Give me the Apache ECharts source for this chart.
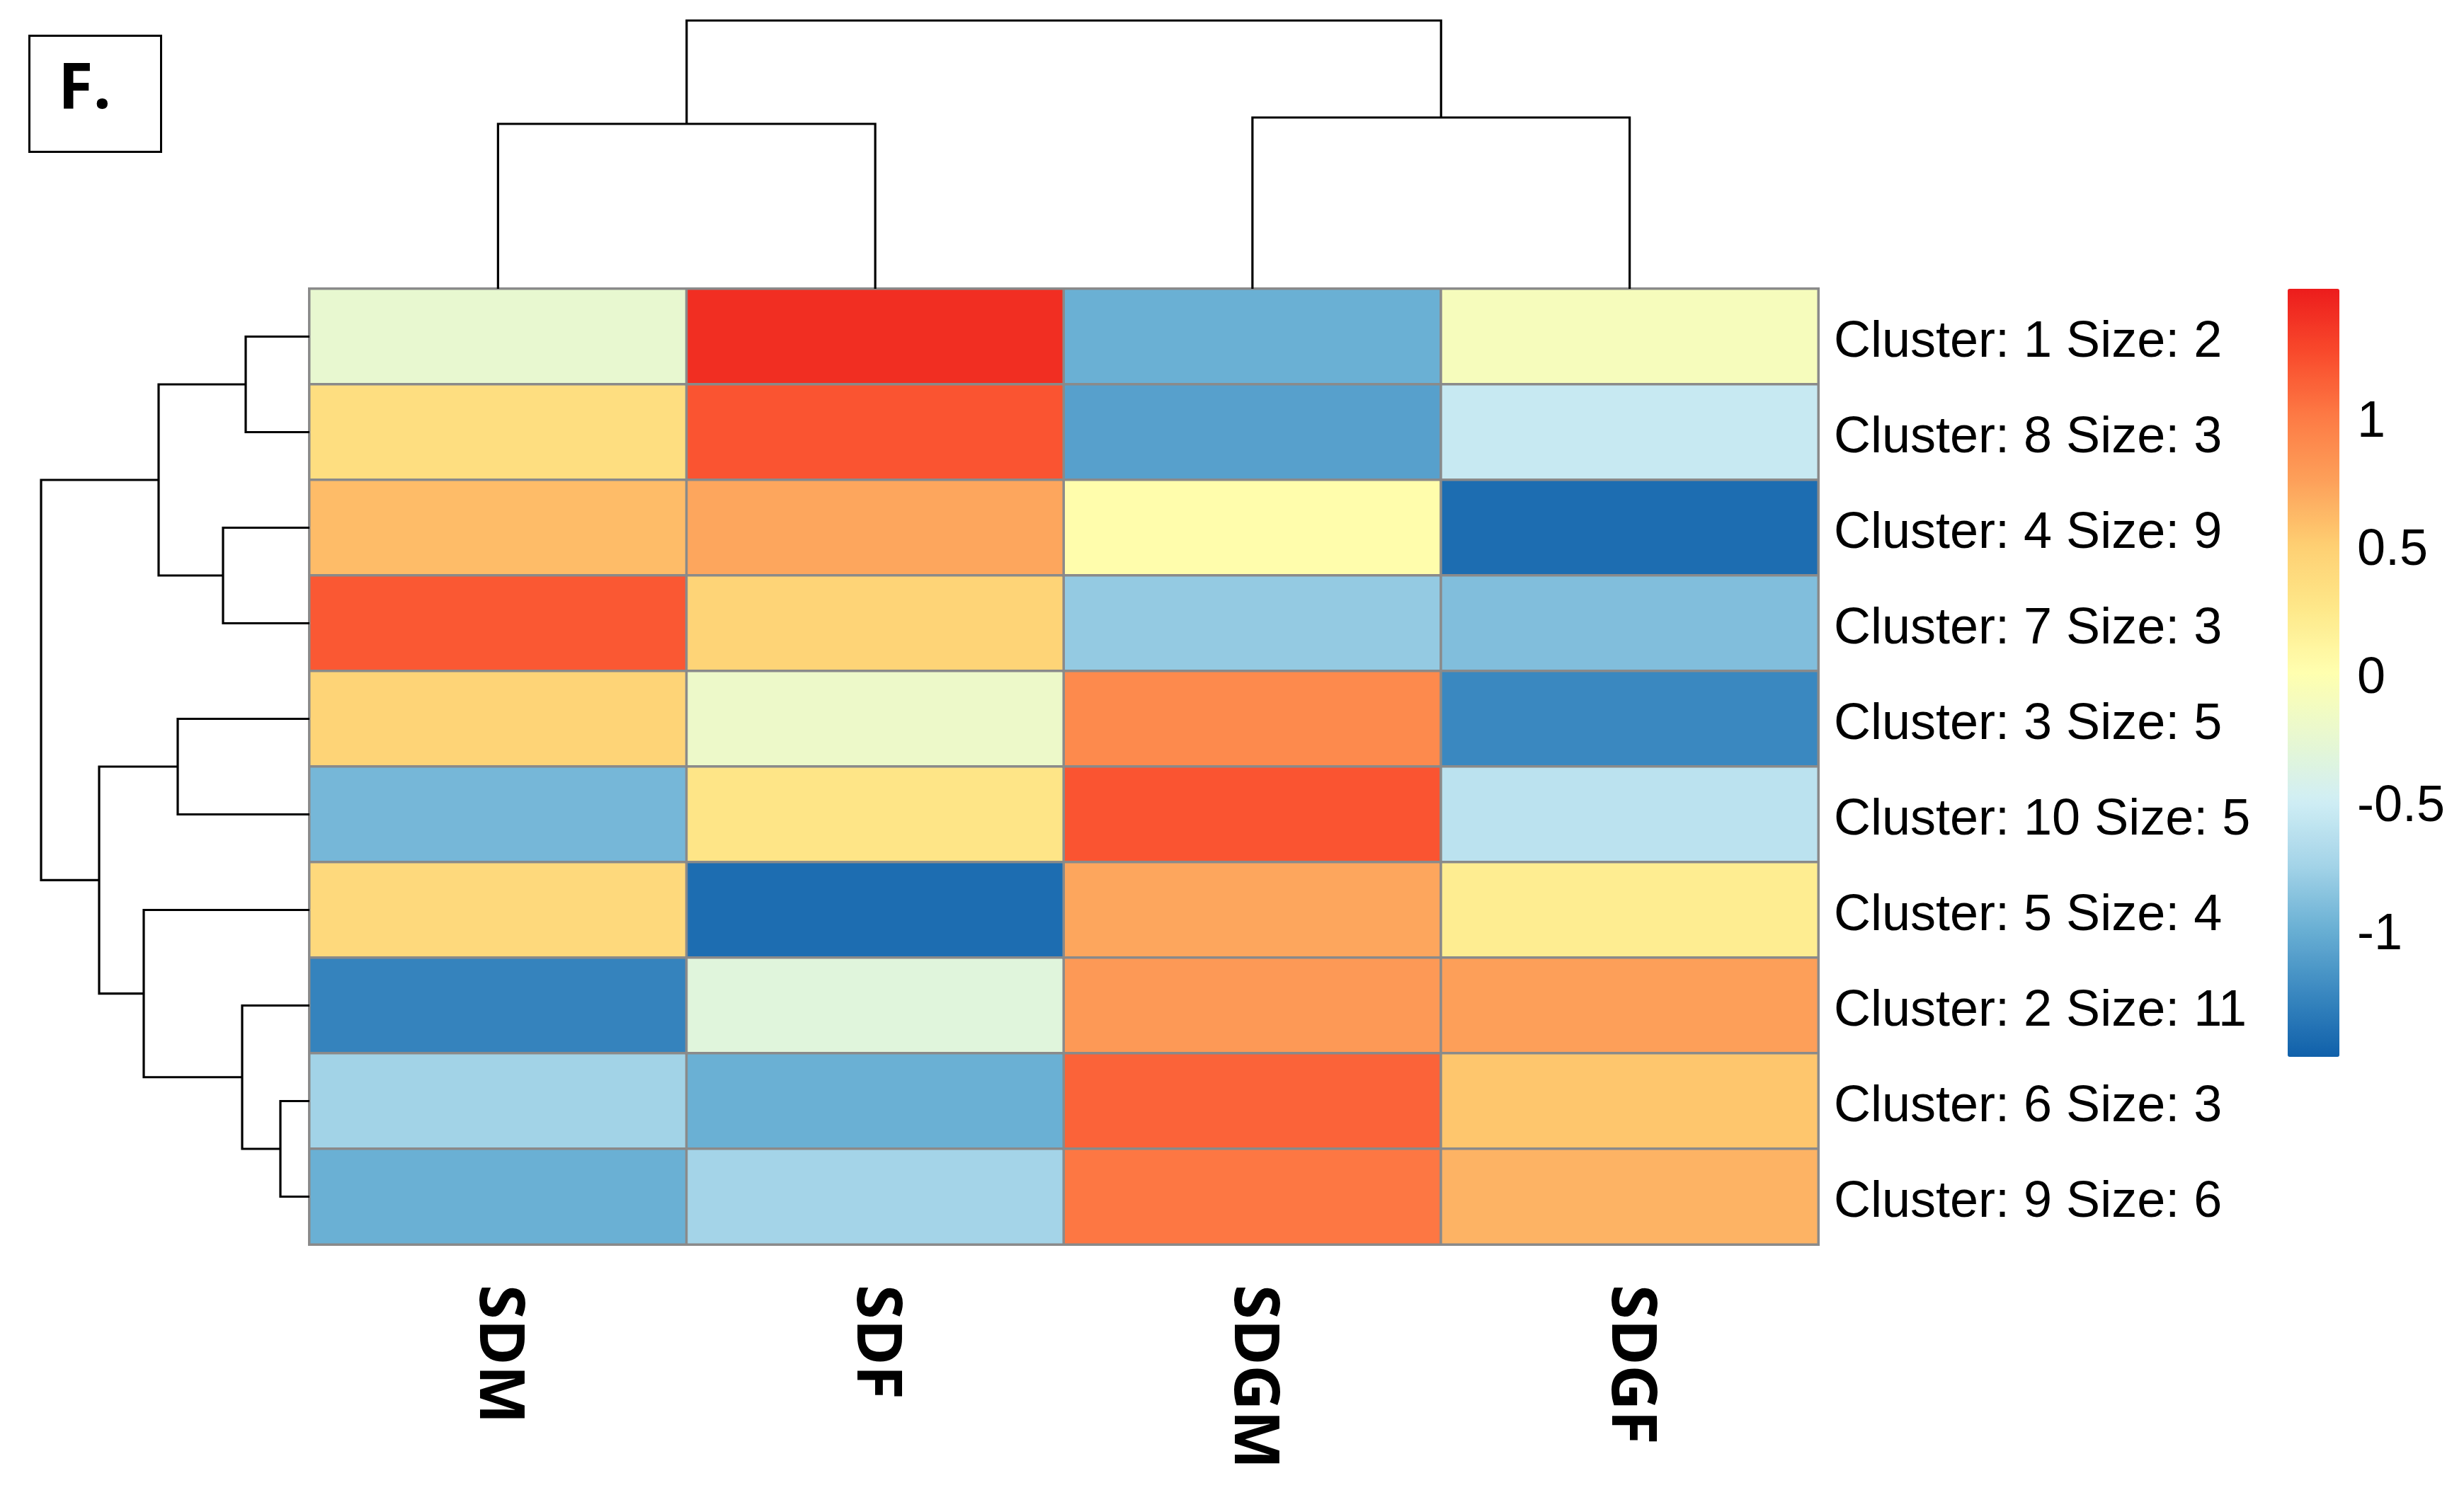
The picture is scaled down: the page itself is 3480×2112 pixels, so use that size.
<!DOCTYPE html>
<html>
<head>
<meta charset="utf-8">
<script src="https://cdn.jsdelivr.net/npm/echarts@6/dist/echarts.min.js"></script>
<style>
html,body{margin:0;padding:0;background:#fff;}
#chart{width:3480px;height:2112px;}
</style>
</head>
<body>
<div id="chart"></div>
<script>
// ---------- data ----------
const columns = ['SDM', 'SDF', 'SDGM', 'SDGF'];
const clusters = [
  'Cluster: 1 Size: 2', 'Cluster: 8 Size: 3', 'Cluster: 4 Size: 9', 'Cluster: 7 Size: 3',
  'Cluster: 3 Size: 5', 'Cluster: 10 Size: 5', 'Cluster: 5 Size: 4', 'Cluster: 2 Size: 11',
  'Cluster: 6 Size: 3', 'Cluster: 9 Size: 6'
];
const sdm  = [-0.25, 0.35, 0.60, 1.18, 0.45, -0.95, 0.40, -1.28, -0.76, -1.00];
const sdf  = [ 1.40, 1.20, 0.72, 0.45, -0.20, 0.28, -1.42, -0.33, -1.00, -0.75];
const sdgm = [-1.00, -1.10, 0.02, -0.82, 0.90, 1.20, 0.72, 0.80, 1.12, 1.02];
const sdgf = [-0.10, -0.55, -1.42, -0.90, -1.25, -0.62, 0.20, 0.76, 0.55, 0.65];
const colorTicks = [-1, -0.5, 0, 0.5, 1];
const colorMin = -1.5, colorMax = 1.5;
const palette = ['#1060AA', '#3A88C0', '#6AB0D4', '#A4D4E8', '#D0EEF5', '#E8F8D0', '#FFFFAF',
                 '#FEE88A', '#FECF72', '#FDA05A', '#FD7B45', '#F94A2C', '#EC1C1C'];

// row dendrogram: [childA, childB, height]; leaves = row index (number), nodes = 'n#'
const rowMerges = [
  [0, 1, 0.90], [2, 3, 1.22], ['n0', 'n1', 2.13], [4, 5, 1.86], [8, 9, 0.41],
  [7, 'n4', 0.95], [6, 'n5', 2.34], ['n3', 'n6', 2.97], ['n2', 'n7', 3.79]
];
// column dendrogram
const colMerges = [
  [0, 1, 2.33], [2, 3, 2.42], ['n0', 'n1', 3.79]
];

// ---------- build ----------
const values = [sdm, sdf, sdgm, sdgf];
const heatData = [];
values.forEach((col, ci) => col.forEach((v, ri) => heatData.push([ci, ri, v])));

function dendroSegments(merges) {
  const pos = {}, hgt = {};
  const segs = [];
  const get = (k) => typeof k === 'number' ? [k, 0] : [pos[k], hgt[k]];
  merges.forEach((m, i) => {
    const a = get(m[0]), b = get(m[1]);
    const id = 'n' + i;
    pos[id] = (a[0] + b[0]) / 2;
    hgt[id] = m[2];
    segs.push([a[0], a[1], b[0], b[1], m[2]]);
  });
  return segs;
}
const rowSegs = dendroSegments(rowMerges);
const colSegs = dendroSegments(colMerges);

const HM = {left: 437, top: 408, width: 2131, height: 1350};
const maxRowH = Math.max(...rowMerges.map(m => m[2]));
const maxColH = Math.max(...colMerges.map(m => m[2]));

const chart = echarts.init(document.getElementById('chart'), null, {renderer: 'canvas'});

const lineStyle = {stroke: '#000', lineWidth: 3.2, fill: null};
const labelRich = {t: {fontSize: 72, fontFamily: 'Liberation Sans', color: '#000', padding: [17, 0, 0, 0]}};

chart.setOption({
  backgroundColor: '#fff',
  animation: false,
  grid: [
    {left: HM.left, top: HM.top, width: HM.width, height: HM.height},            // heatmap
    {left: 58, top: HM.top, width: HM.left - 58, height: HM.height},             // row dendrogram
    {left: HM.left, top: 29, width: HM.width, height: HM.top - 29},              // col dendrogram
    {left: 3231, top: 408, width: 73, height: 1085}                               // colorbar axis
  ],
  xAxis: [
    {type: 'category', gridIndex: 0, data: columns, position: 'bottom',
     axisLine: {show: false}, axisTick: {show: false}, splitLine: {show: false},
     axisLabel: {rotate: -90, margin: 57, fontSize: 88, fontWeight: 'bold',
                 fontFamily: 'Open Sans', color: '#000'}},
    {type: 'value', gridIndex: 1, min: 0, max: maxRowH, inverse: true, show: false},
    {type: 'value', gridIndex: 2, min: -0.5, max: columns.length - 0.5, show: false},
    {type: 'value', gridIndex: 3, show: false, min: 0, max: 1}
  ],
  yAxis: [
    {type: 'category', gridIndex: 0, data: clusters, inverse: true, position: 'right',
     axisLine: {show: false}, axisTick: {show: false}, splitLine: {show: false},
     axisLabel: {margin: 22, fontSize: 72, fontFamily: 'Liberation Sans', color: '#000',
                 formatter: (v) => '{t|' + v + '}', rich: labelRich}},
    {type: 'value', gridIndex: 1, min: -0.5, max: clusters.length - 0.5, inverse: true, show: false},
    {type: 'value', gridIndex: 2, min: 0, max: maxColH, show: false},
    {type: 'value', gridIndex: 3, min: colorMin, max: colorMax, position: 'right',
     axisLine: {show: false}, axisTick: {show: false}, splitLine: {show: false},
     axisLabel: {customValues: colorTicks, margin: 25, fontSize: 72,
                 fontFamily: 'Liberation Sans', color: '#000',
                 formatter: (v) => '{t|' + v + '}', rich: labelRich}}
  ],
  visualMap: {
    type: 'continuous', seriesIndex: 0, min: colorMin, max: colorMax,
    calculable: false, orient: 'vertical', left: 3231, top: 408, padding: 0,
    itemWidth: 73, itemHeight: 1085, text: ['', ''], showLabel: false,
    inRange: {color: palette}
  },
  series: [
    {type: 'heatmap', xAxisIndex: 0, yAxisIndex: 0, data: heatData,
     itemStyle: {borderColor: '#8a8a8a', borderWidth: 3.5},
     emphasis: {disabled: true}},
    {type: 'custom', xAxisIndex: 1, yAxisIndex: 1, data: rowSegs, silent: true,
     encode: {x: [1, 3, 4], y: [0, 2]},
     renderItem: function (params, api) {
       const p1 = api.value(0), h1 = api.value(1), p2 = api.value(2), h2 = api.value(3), hm = api.value(4);
       const pts = [api.coord([h1, p1]), api.coord([hm, p1]), api.coord([hm, p2]), api.coord([h2, p2])];
       return {type: 'polyline', shape: {points: pts}, style: lineStyle};
     }},
    {type: 'custom', xAxisIndex: 2, yAxisIndex: 2, data: colSegs, silent: true,
     encode: {x: [0, 2], y: [1, 3, 4]},
     renderItem: function (params, api) {
       const p1 = api.value(0), h1 = api.value(1), p2 = api.value(2), h2 = api.value(3), hm = api.value(4);
       const pts = [api.coord([p1, h1]), api.coord([p1, hm]), api.coord([p2, hm]), api.coord([p2, h2])];
       return {type: 'polyline', shape: {points: pts}, style: lineStyle};
     }},
    {type: 'scatter', xAxisIndex: 3, yAxisIndex: 3, data: [], silent: true}
  ],
  graphic: [
    {type: 'rect', left: 40, top: 49, shape: {width: 186, height: 164},
     style: {fill: '#fff', stroke: '#000', lineWidth: 3}},
    {type: 'text', left: 82, top: 82,
     style: {text: 'F.', font: 'bold 90px "Open Sans"', fill: '#000'}}
  ]
});
</script>
</body>
</html>
